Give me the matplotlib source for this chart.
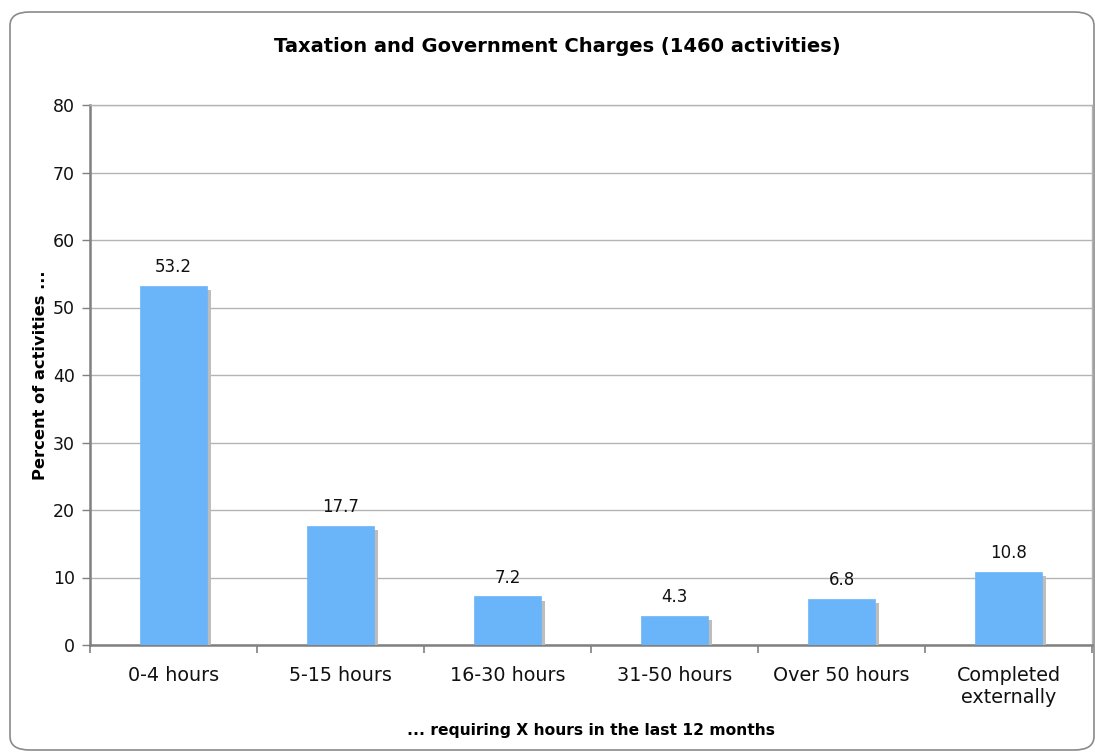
import matplotlib.pyplot as plt
import matplotlib.patheffects as pe
from matplotlib.patches import FancyBboxPatch
import numpy as np

categories = ["0-4 hours", "5-15 hours", "16-30 hours", "31-50 hours",
              "Over 50 hours", "Completed\nexternally"]
percent = [53.2, 17.7, 7.2, 4.3, 6.8, 10.8]

W, H = 1095, 753
fig = plt.figure(figsize=(W / 100, H / 100), dpi=100)
plt.rcParams["font.family"] = "DejaVu Sans"

# rounded frame around the whole chart
frame = FancyBboxPatch((10 / W, 3 / H), 1084 / W, 738 / H,
                       boxstyle="round,pad=0.0,rounding_size=0.018",
                       transform=fig.transFigure, facecolor="none",
                       edgecolor="#8a8a8a", linewidth=1.2, zorder=-1)
fig.patches.append(frame)

ax = fig.add_axes([90 / W, (H - 645) / H, (1092 - 90) / W, (645 - 105) / H])
ax.set_facecolor("none")

x = np.arange(len(categories))
bars = ax.bar(x, percent, width=0.4, color="#6ab4fa", edgecolor="#6ab4fa",
              linewidth=0.5, zorder=3)
for b in bars:
    b.set_path_effects([pe.SimplePatchShadow(offset=(2.8, -3), shadow_rgbFace="#bdbdbd",
                                             alpha=1.0), pe.Normal()])

for xi, v in zip(x, percent):
    ax.annotate(f"{v}", (xi, v), xytext=(0, 7), textcoords="offset points",
                ha="center", va="bottom", fontsize=12, color="#111111")

ax.set_xlim(-0.5, len(categories) - 0.5)
ax.set_ylim(0, 80)
ax.set_yticks(range(0, 81, 10))
ax.yaxis.grid(True, color="#b4b4b4", linewidth=1.0, zorder=0)
ax.set_axisbelow(True)

ax.set_xticks(x)
ax.set_xticklabels(categories, fontsize=13.8, color="#111111", linespacing=1.2)
ax.set_xticks(np.arange(-0.5, len(categories), 1.0), minor=True)
ax.tick_params(axis="x", which="major", length=0, pad=15)
ax.tick_params(axis="x", which="minor", length=6, color="#808080", width=1.2)
ax.tick_params(axis="y", length=6, color="#808080", width=1.0, labelsize=12.5,
               labelcolor="#111111", pad=5)

for side in ("top", "right"):
    ax.spines[side].set_color("#b4b4b4")
    ax.spines[side].set_linewidth(1.0)
for side in ("left", "bottom"):
    ax.spines[side].set_color("#808080")
    ax.spines[side].set_linewidth(1.8)

ax.set_ylabel("Percent of activities ...", fontsize=11.7, fontweight="bold", labelpad=3)
ax.set_xlabel("... requiring X hours in the last 12 months", fontsize=11.2,
              fontweight="bold", labelpad=12)

fig.text(557 / W, 1 - 47 / H, "Taxation and Government Charges (1460 activities)",
         ha="center", va="center", fontsize=14, fontweight="bold")

fig.savefig("out.png", dpi=100)
